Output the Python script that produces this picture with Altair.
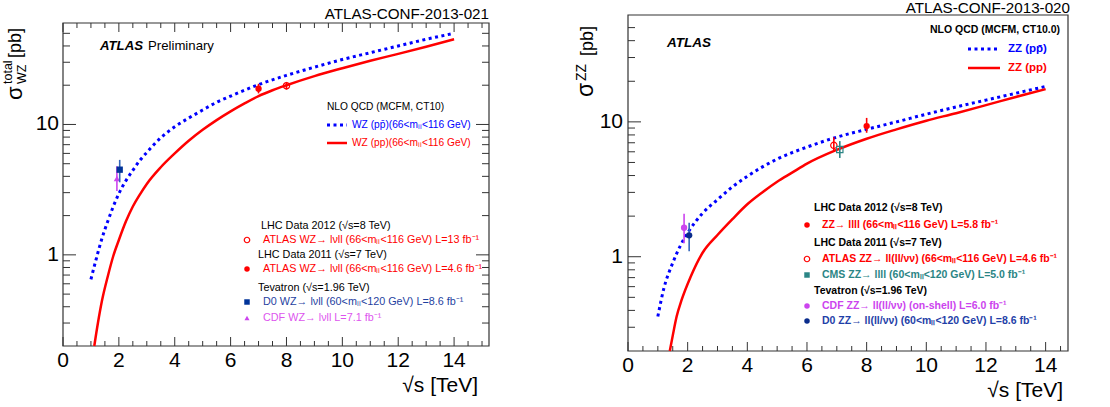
import altair as alt
import pandas as pd

FONT = "Liberation Sans"

# ---------------- data ----------------
# Left panel: WZ
wz_ppbar_x = [1.0, 1.2, 1.4, 1.6, 1.8, 2.0, 2.25, 2.5, 2.75, 3.0, 3.5, 4.0, 4.5, 5.0, 5.5, 6.0,
              7.0, 8.0, 9.0, 10.0, 11.0, 12.0, 13.0, 14.0]
wz_ppbar_y = [0.65, 0.95, 1.35, 1.8, 2.35, 2.95, 3.7, 4.45, 5.3, 6.1, 7.9, 9.6, 11.2, 12.9, 14.8, 16.5,
              20.2, 23.8, 27.5, 31.5, 35.5, 40.0, 45.0, 50.0]
wz_pp_x = [1.12, 1.25, 1.4, 1.6, 1.8, 2.0, 2.25, 2.5, 2.75, 3.0, 3.5, 4.0, 4.5, 5.0, 5.5, 6.0, 6.5,
           7.0, 7.5, 8.0, 9.0, 10.0, 11.0, 12.0, 13.0, 14.0]
wz_pp_y = [0.2, 0.3, 0.45, 0.68, 0.98, 1.3, 1.8, 2.35, 2.9, 3.5, 4.7, 6.0, 7.5, 9.1, 10.8, 12.6, 14.5,
           16.5, 18.3, 20.0, 23.5, 27.0, 30.8, 34.8, 39.5, 45.0]

wz_pts_name = ["ATLAS 2012", "ATLAS 2011", "D0", "CDF"]
wz_pts_x = [8.0, 7.0, 2.03, 1.93]
wz_pts_y = [19.8, 18.8, 4.5, 3.85]
wz_pts_lo = [18.5, 17.3, 3.6, 3.09]
wz_pts_hi = [21.2, 20.5, 5.35, 4.78]

# Right panel: ZZ
zz_ppbar_x = [1.0, 1.2, 1.5, 1.75, 2.0, 2.5, 3.0, 3.5, 4.0, 5.0, 6.0, 7.0, 8.0, 9.0, 10.0, 11.0, 12.0,
              13.0, 14.0]
zz_ppbar_y = [0.36, 0.58, 0.9, 1.2, 1.5, 2.1, 2.65, 3.3, 3.95, 5.3, 6.5, 7.7, 8.8, 10.0, 11.4, 12.9, 14.5,
              16.3, 18.3]
zz_pp_x = [1.4, 1.5, 1.63, 1.8, 2.1, 2.5, 3.0, 3.5, 4.0, 4.5, 5.0, 5.5, 6.0, 7.0, 8.0, 9.0, 10.0, 11.0,
           12.0, 13.0, 14.0]
zz_pp_y = [0.2, 0.26, 0.36, 0.48, 0.71, 1.07, 1.45, 1.9, 2.45, 3.0, 3.6, 4.2, 4.9, 6.2, 7.5, 8.8, 10.2,
           11.6, 13.3, 15.3, 17.5]

zz_pts_name = ["ATLAS 2012", "ATLAS 2011", "CMS", "CDF", "D0"]
zz_pts_x = [8.0, 6.9, 7.1, 1.88, 2.05]
zz_pts_y = [9.3, 6.7, 6.24, 1.64, 1.44]
zz_pts_lo = [8.3, 6.0, 5.4, 1.26, 1.10]
zz_pts_hi = [10.7, 7.7, 7.2, 2.08, 1.79]

# axis ticks / labels
x_major = [0, 2, 4, 6, 8, 10, 12, 14]
x_minor = [0.5, 1, 1.5, 2.5, 3, 3.5, 4.5, 5, 5.5, 6.5, 7, 7.5, 8.5, 9, 9.5, 10.5, 11, 11.5,
           12.5, 13, 13.5, 14.5, 15]
y_major = [1, 10]
y_major_labels = ["1", "10"]
y_minor = [0.3, 0.4, 0.5, 0.6, 0.7, 0.8, 0.9, 2, 3, 4, 5, 6, 7, 8, 9, 20, 30, 40, 50]

# texts
left_theory = ["NLO QCD (MCFM, CT10)", "WZ (pp\u0304)(66<m\u2097\u2097<116 GeV)",
               "WZ (pp)(66<m\u2097\u2097<116 GeV)"]
left_data_leg = ["LHC Data 2012 (\u221as=8 TeV)",
                 "ATLAS WZ\u2192 l\u03bdll (66<m\u2097\u2097<116 GeV) L=13 fb\u207b\u00b9",
                 "LHC Data 2011 (\u221as=7 TeV)",
                 "ATLAS WZ\u2192 l\u03bdll (66<m\u2097\u2097<116 GeV) L=4.6 fb\u207b\u00b9",
                 "Tevatron (\u221as=1.96 TeV)",
                 "D0 WZ\u2192 l\u03bdll (60<m\u2097\u2097<120 GeV) L=8.6 fb\u207b\u00b9",
                 "CDF WZ\u2192 l\u03bdll  L=7.1 fb\u207b\u00b9"]
right_theory = ["NLO QCD (MCFM, CT10.0)", "ZZ (pp\u0304)", "ZZ (pp)"]
right_data_leg = ["LHC Data 2012 (\u221as=8 TeV)",
                  "ZZ\u2192 llll (66<m\u2097\u2097<116 GeV) L=5.8 fb\u207b\u00b9",
                  "LHC Data 2011 (\u221as=7 TeV)",
                  "ATLAS ZZ\u2192 ll(ll/\u03bd\u03bd) (66<m\u2097\u2097<116 GeV) L=4.6 fb\u207b\u00b9",
                  "CMS ZZ\u2192 llll (60<m\u2097\u2097<120 GeV) L=5.0 fb\u207b\u00b9",
                  "Tevatron (\u221as=1.96 TeV)",
                  "CDF ZZ\u2192 ll(ll/\u03bd\u03bd) (on-shell) L=6.0 fb\u207b\u00b9",
                  "D0 ZZ\u2192 ll(ll/\u03bd\u03bd) (60<m\u2097\u2097<120 GeV) L=8.6 fb\u207b\u00b9"]

# ---------------- layout ----------------
P_L = {"xd": [0, 15.25], "xr": [63, 489], "yd": [0.2, 60], "yr": [346, 23]}
P_R = {"xd": [0, 14.75], "xr": [628, 1068], "yd": [0.2, 62], "yr": [351, 15]}

RED = "#ff0000"
BLUE = "#0000ff"
AX = "#333333"


def xq(f, P):
    return alt.X(f, type="quantitative",
                 scale=alt.Scale(domain=P["xd"], range=P["xr"], nice=False, zero=False), axis=None)


def yq(f, P):
    return alt.Y(f, type="quantitative",
                 scale=alt.Scale(type="log", domain=P["yd"], range=P["yr"], nice=False), axis=None)


def one():
    return alt.Data(values=[{}])


def txt(s, x, y, size=10.5, color="black", align="left", baseline="middle",
        weight="normal", style="normal", angle=0):
    kw = dict(text=s, font=FONT, fontSize=size, color=color, align=align, baseline=baseline,
              fontWeight=weight, fontStyle=style)
    if angle:
        kw["angle"] = angle
    return alt.Chart(one()).mark_text(**kw).encode(x=alt.value(x), y=alt.value(y))


def leg_line(x1, x2, y, color, dash=None, width=2.5):
    kw = dict(color=color, strokeWidth=width)
    if dash:
        kw["strokeDash"] = dash
    return alt.Chart(one()).mark_rule(**kw).encode(x=alt.value(x1), x2=alt.value(x2), y=alt.value(y))


def leg_marker(x, y, shape, color, filled=True, size=36):
    kw = dict(shape=shape, color=color, filled=filled, size=size, opacity=1)
    if not filled:
        kw["strokeWidth"] = 1.2
    return alt.Chart(one()).mark_point(**kw).encode(x=alt.value(x), y=alt.value(y))


def panel_frame(P, top_ticks, right_ticks):
    L = []
    fr = pd.DataFrame({"x": [P["xd"][0]], "x2": [P["xd"][1]], "y": [P["yd"][0]], "y2": [P["yd"][1]]})
    L.append(alt.Chart(fr).mark_rect(fillOpacity=0, stroke=AX, strokeWidth=1.2)
             .encode(x=xq("x", P), x2="x2:Q", y=yq("y", P), y2="y2:Q"))
    bot, top = P["yr"][0], P["yr"][1]
    lft, rgt = P["xr"][0], P["xr"][1]
    for vals, ln in ((x_major, 9), (x_minor, 5)):
        d = pd.DataFrame({"v": [v for v in vals if v <= P["xd"][1]]})
        L.append(alt.Chart(d).mark_rule(color=AX, strokeWidth=1)
                 .encode(x=xq("v", P), y=alt.value(bot), y2=alt.value(bot - ln)))
        if top_ticks:
            L.append(alt.Chart(d).mark_rule(color=AX, strokeWidth=1)
                     .encode(x=xq("v", P), y=alt.value(top), y2=alt.value(top + ln)))
    for vals, ln in ((y_major, 13), (y_minor, 7)):
        d = pd.DataFrame({"v": [v for v in vals if v <= P["yd"][1]]})
        L.append(alt.Chart(d).mark_rule(color=AX, strokeWidth=1)
                 .encode(y=yq("v", P), x=alt.value(lft), x2=alt.value(lft + ln)))
        if right_ticks:
            L.append(alt.Chart(d).mark_rule(color=AX, strokeWidth=1)
                     .encode(y=yq("v", P), x=alt.value(rgt), x2=alt.value(rgt - ln)))
    return L


def tick_labels(P, ylab_x, xlab_y):
    L = []
    d = pd.DataFrame({"v": x_major, "t": [str(v) for v in x_major]})
    L.append(alt.Chart(d).mark_text(font=FONT, fontSize=21, align="center", baseline="middle", color="black")
             .encode(x=xq("v", P), y=alt.value(xlab_y), text="t:N"))
    d = pd.DataFrame({"v": y_major, "t": y_major_labels})
    L.append(alt.Chart(d).mark_text(font=FONT, fontSize=21, align="right", baseline="middle", color="black")
             .encode(y=yq("v", P), x=alt.value(ylab_x), text="t:N"))
    return L


def curve(xs, ys, P, color, dash=None, width=2.5):
    d = pd.DataFrame({"x": xs, "y": ys})
    kw = dict(color=color, strokeWidth=width, interpolate="monotone")
    if dash:
        kw["strokeDash"] = dash
    return alt.Chart(d).mark_line(**kw).encode(x=xq("x", P), y=yq("y", P))


def point(x, y, lo, hi, P, shape, color, filled=True, size=40, barcolor=None):
    d = pd.DataFrame({"x": [x], "y": [y], "lo": [lo], "hi": [hi]})
    bar = alt.Chart(d).mark_rule(color=barcolor or color, strokeWidth=1.6).encode(
        x=xq("x", P), y=yq("lo", P), y2="hi:Q")
    kw = dict(shape=shape, color=color, filled=filled, size=size, opacity=1)
    if not filled:
        kw["strokeWidth"] = 1.2
    mk = alt.Chart(d).mark_point(**kw).encode(x=xq("x", P), y=yq("y", P))
    return [bar, mk]


layers = []

# ================= LEFT PANEL =================
layers += panel_frame(P_L, top_ticks=True, right_ticks=True)
layers += tick_labels(P_L, 59, 361)
layers.append(curve(wz_ppbar_x, wz_ppbar_y, P_L, BLUE, dash=[3, 3.5], width=3))
layers.append(curve(wz_pp_x, wz_pp_y, P_L, RED, width=2.5))
layers += point(wz_pts_x[0], wz_pts_y[0], wz_pts_lo[0], wz_pts_hi[0], P_L, "circle", RED, filled=False)
layers += point(wz_pts_x[1], wz_pts_y[1], wz_pts_lo[1], wz_pts_hi[1], P_L, "circle", RED)
layers += point(wz_pts_x[3], wz_pts_y[3], wz_pts_lo[3], wz_pts_hi[3], P_L, "triangle-up", "#cc44ee", size=40)
layers += point(wz_pts_x[2], wz_pts_y[2], wz_pts_lo[2], wz_pts_hi[2], P_L, "square", "#003399",
                size=40, barcolor="#3366bb")

layers.append(txt("ATLAS-CONF-2013-021", 489, 18.5, size=15.2, align="right", baseline="alphabetic"))
layers.append(txt("ATLAS", 100, 50, size=13.2, weight="bold", style="italic", baseline="alphabetic"))
layers.append(txt("Preliminary", 148, 50, size=13.2, baseline="alphabetic"))

layers.append(txt(left_theory[0], 327, 107, size=10.2))
layers.append(leg_line(327, 347, 125, BLUE, dash=[3, 3.5], width=3))
layers.append(txt(left_theory[1], 352, 125, size=10.2, color=BLUE))
layers.append(leg_line(327, 347, 143, RED, width=2.5))
layers.append(txt(left_theory[2], 352, 143, size=10.2, color=RED))

layers.append(txt(left_data_leg[0], 261, 226, size=10.8))
layers.append(leg_marker(247, 240, "circle", RED, filled=False, size=30))
layers.append(txt(left_data_leg[1], 263, 240, size=10.8, color=RED))
layers.append(txt(left_data_leg[2], 258, 255, size=10.8))
layers.append(leg_marker(247, 269, "circle", RED, size=30))
layers.append(txt(left_data_leg[3], 263, 269, size=10.8, color=RED))
layers.append(txt(left_data_leg[4], 258, 288, size=10.8))
layers.append(leg_marker(247, 302, "square", "#003399", size=30))
layers.append(txt(left_data_leg[5], 263, 302, size=10.8, color="#1f3f9f"))
layers.append(leg_marker(247, 318, "triangle-up", "#cc44ee", size=25))
layers.append(txt(left_data_leg[6], 263, 318, size=10.8, color="#dd55ee"))

# axis titles (left)
layers.append(txt("\u221as [TeV]", 478, 386, size=21, align="right"))
layers.append(txt("\u03c3", 22, 100, size=22, angle=270, baseline="alphabetic"))
layers.append(txt("total", 12, 84, size=12.5, angle=270, baseline="alphabetic"))
layers.append(txt("WZ", 26, 84, size=12.5, angle=270, baseline="alphabetic"))
layers.append(txt("[pb]", 21, 58, size=18, angle=270, baseline="alphabetic"))

# ================= RIGHT PANEL =================
layers += panel_frame(P_R, top_ticks=False, right_ticks=False)
layers += tick_labels(P_R, 623, 366)
layers.append(curve(zz_ppbar_x, zz_ppbar_y, P_R, BLUE, dash=[3, 3.5], width=3))
layers.append(curve(zz_pp_x, zz_pp_y, P_R, RED, width=2.5))
layers += point(zz_pts_x[1], zz_pts_y[1], zz_pts_lo[1], zz_pts_hi[1], P_R, "circle", RED, filled=False)
layers += point(zz_pts_x[2], zz_pts_y[2], zz_pts_lo[2], zz_pts_hi[2], P_R, "square", "#2b8585", filled=False)
layers += point(zz_pts_x[0], zz_pts_y[0], zz_pts_lo[0], zz_pts_hi[0], P_R, "circle", RED)
layers += point(zz_pts_x[3], zz_pts_y[3], zz_pts_lo[3], zz_pts_hi[3], P_R, "circle", "#cc44ee")
layers += point(zz_pts_x[4], zz_pts_y[4], zz_pts_lo[4], zz_pts_hi[4], P_R, "circle", "#0a2c8c",
                barcolor="#3366bb")

layers.append(txt("ATLAS-CONF-2013-020", 1070, 13, size=15.2, align="right", baseline="alphabetic"))
layers.append(txt("ATLAS", 667, 47, size=13.5, weight="bold", style="italic", baseline="alphabetic"))

layers.append(txt(right_theory[0], 930, 30, size=10.5, weight="bold"))
layers.append(leg_line(968, 1000, 49, BLUE, dash=[3, 3.5], width=3))
layers.append(txt(right_theory[1], 1008, 49, size=11.5, weight="bold", color=BLUE))
layers.append(leg_line(968, 1000, 68, RED, width=2.5))
layers.append(txt(right_theory[2], 1008, 68, size=11.5, weight="bold", color=RED))

layers.append(txt(right_data_leg[0], 814, 208, size=10.5, weight="bold"))
layers.append(leg_marker(807, 225, "circle", RED, size=30))
layers.append(txt(right_data_leg[1], 822, 225, size=10.5, weight="bold", color=RED))
layers.append(txt(right_data_leg[2], 814, 243, size=10.5, weight="bold"))
layers.append(leg_marker(807, 259, "circle", RED, filled=False, size=30))
layers.append(txt(right_data_leg[3], 822, 259, size=10.5, weight="bold", color=RED))
layers.append(leg_marker(807, 275, "square", "#2b8585", size=30))
layers.append(txt(right_data_leg[4], 822, 275, size=10.5, weight="bold", color="#2b8585"))
layers.append(txt(right_data_leg[5], 814, 291, size=10.5, weight="bold"))
layers.append(leg_marker(807, 306, "circle", "#cc44ee", size=30))
layers.append(txt(right_data_leg[6], 822, 306, size=10.5, weight="bold", color="#cc44ee"))
layers.append(leg_marker(807, 321, "circle", "#0a2c8c", size=30))
layers.append(txt(right_data_leg[7], 822, 321, size=10.5, weight="bold", color="#1f3fa8"))

layers.append(txt("\u221as [TeV]", 1063, 391, size=21, align="right"))
layers.append(txt("\u03c3", 593, 97, size=23, angle=270, baseline="alphabetic"))
layers.append(txt("ZZ", 586, 81, size=14, angle=270, baseline="alphabetic"))
layers.append(txt("[pb]", 593, 56, size=18, angle=270, baseline="alphabetic"))

chart = (
    alt.layer(*layers)
    .resolve_scale(x="independent", y="independent")
    .properties(width=1110, height=407, padding=0,
                autosize=alt.AutoSizeParams(type="none"), background="white")
    .configure_view(stroke="transparent")
)

chart.save("out.html", embed_options={"renderer": "svg", "actions": False})
